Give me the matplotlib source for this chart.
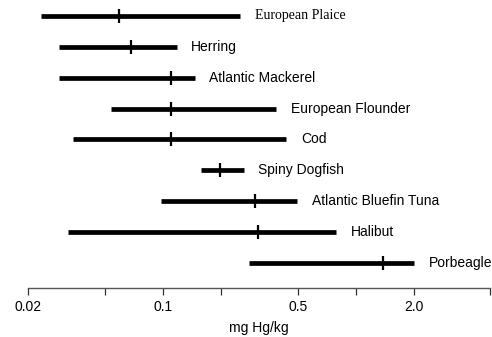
import numpy as np
import matplotlib
matplotlib.use('Agg')
import matplotlib.pyplot as plt

# Faixas de mercúrio por espécie (mg Hg/kg)
especies = ['European Plaice', 'Herring', 'Atlantic Mackerel', 'European Flounder', 'Cod',
            'Spiny Dogfish', 'Atlantic Bluefin Tuna', 'Halibut', 'Porbeagle']
minimo = [0.0232, 0.0289, 0.0289, 0.0535, 0.0340, 0.157, 0.0973, 0.0321, 0.281]
mediana = [0.0591, 0.0686, 0.1096, 0.1096, 0.1096, 0.197, 0.302, 0.313, 1.394]
maximo = [0.252, 0.1177, 0.146, 0.388, 0.437, 0.262, 0.498, 0.793, 2.01]

ticks_major = [0.02, 0.1, 0.5, 2.0]
ticks_minor = [0.05, 0.2, 1.0, 5.0]
rotulos_ticks = ['0.02', '0.1', '0.5', '2.0']

plt.rcParams['font.family'] = ['Liberation Sans', 'DejaVu Sans']

fig = plt.figure(figsize=(4.92, 3.37), dpi=100)
ax = fig.add_axes([28.3 / 492, 1 - 287.7 / 337, (490.3 - 28.3) / 492, 287.7 / 337])

y = np.arange(len(especies))
ax.hlines(y, minimo, maximo, color='black', linewidth=3.4)
ax.plot(mediana, y, linestyle='none', marker='|', markersize=9.5,
        markeredgewidth=1.6, color='black')

for i, nome in enumerate(especies):
    familia = ['Liberation Serif', 'DejaVu Serif'] if i == 0 else ['Liberation Sans', 'DejaVu Sans']
    ax.annotate(nome, (maximo[i], y[i]), xytext=(10.5, 0), textcoords='offset points',
                va='center', ha='left', fontsize=10, family=familia)

ax.set_xscale('log')
ax.set_xlim(0.02, 5.0)
ax.set_ylim(8.8, -0.518)

ax.set_xticks(ticks_major + ticks_minor)
ax.set_xticklabels(rotulos_ticks + [''] * len(ticks_minor))
ax.xaxis.set_minor_locator(matplotlib.ticker.NullLocator())
ax.tick_params(axis='x', direction='out', length=5, width=0.9, color='#333333',
               labelsize=10, pad=4)
ax.set_yticks([])
for lado in ['top', 'right', 'left']:
    ax.spines[lado].set_visible(False)
ax.spines['bottom'].set_color('#555555')
ax.spines['bottom'].set_linewidth(1.0)

ax.set_xlabel('mg Hg/kg', fontsize=10, labelpad=5)

fig.savefig('out.png', dpi=100)
